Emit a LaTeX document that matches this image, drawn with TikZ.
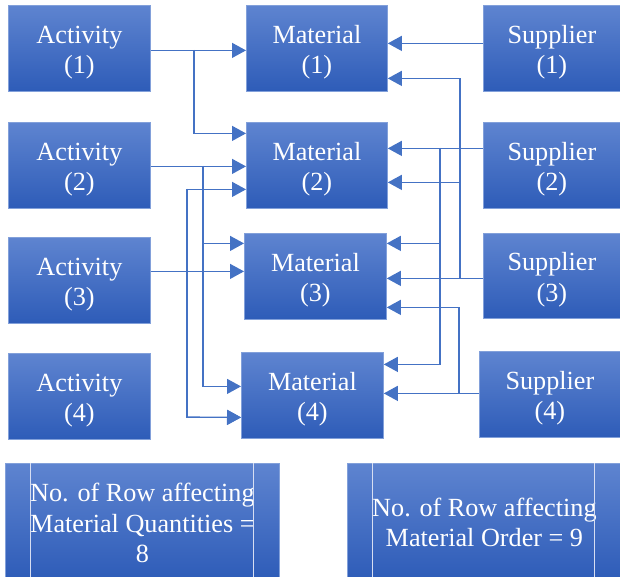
\documentclass[tikz,border=0pt]{standalone}
\usepackage{fontspec}
\setmainfont{Liberation Serif}
\usetikzlibrary{arrows.meta}
\definecolor{boxtop}{RGB}{94,132,208}
\definecolor{boxbot}{RGB}{46,92,184}
\definecolor{boxedge}{RGB}{130,160,218}
\definecolor{linkc}{RGB}{68,114,196}
\definecolor{ruler}{RGB}{215,222,242}
\tikzset{
  blk/.style={draw=boxedge, line width=0.8pt, top color=boxtop, bottom color=boxbot,
    inner sep=0pt, anchor=north west},
  lbl/.style={text=white, align=center, inner sep=0pt,
    font=\fontsize{26.2}{30.5}\selectfont},
  link/.style={draw=linkc, line width=1.2pt, -{Triangle[length=14pt,width=15pt]}},
  guide/.style={draw=ruler, line width=0.9pt}
}
% #1 name, #2 top-left corner, #3 width, #4 height, #5 text, #6 text drop
\newcommand\unitbox[6]{%
  \node[blk, minimum width=#3, minimum height=#4] (#1) at (#2) {};
  \node[lbl] (#1t) at ([yshift=-#6]#1.center) {#5};
}
\begin{document}
\begin{tikzpicture}[x=1pt,y=-1pt]
\useasboundingbox (0,0) rectangle (620,577);

% activity column
\unitbox{a1}{8,5}{142pt}{86pt}{Activity\\(1)}{4pt}
\unitbox{a2}{8,122}{142pt}{86pt}{Activity\\(2)}{4pt}
\unitbox{a3}{8,237}{142pt}{86pt}{Activity\\(3)}{4pt}
\unitbox{a4}{8,353}{142pt}{86pt}{Activity\\(4)}{4pt}

% material column
\unitbox{m1}{246,5}{141pt}{86pt}{Material\\(1)}{4pt}
\unitbox{m2}{246,122}{141pt}{86pt}{Material\\(2)}{4pt}
\unitbox{m3}{244,233}{142pt}{86pt}{Material\\(3)}{4pt}
\unitbox{m4}{241,352}{142pt}{86pt}{Material\\(4)}{4pt}

% supplier column
\unitbox{s1}{483,5}{137pt}{86pt}{Supplier\\(1)}{4pt}
\unitbox{s2}{483,122}{137pt}{86pt}{Supplier\\(2)}{4pt}
\unitbox{s3}{483,233}{137pt}{85pt}{Supplier\\(3)}{4pt}
\unitbox{s4}{479,351}{141pt}{86pt}{Supplier\\(4)}{4pt}

% summary boxes
\unitbox{q}{5,463}{274pt}{116pt}{No. of Row affecting\\Material Quantities =\\8}{1.5pt}
\unitbox{o}{347,463}{274pt}{116pt}{No. of Row affecting\\Material Order = 9}{1pt}
\draw[guide] (q.north west) ++(25,0) -- ++(0,116);
\draw[guide] (q.north west) ++(248,0) -- ++(0,116);
\draw[guide] (o.north west) ++(25,0) -- ++(0,116);
\draw[guide] (o.north west) ++(247,0) -- ++(0,116);

% junctions of the vertical buses
\coordinate (ja1) at (194,50);
\coordinate (ja2) at (203,166);
\coordinate (ja3t) at (187,189);
\coordinate (ja3b) at (187,417);
\coordinate (js2) at (440,148);
\coordinate (js3) at (460,278);
\coordinate (js4) at (459,393);

% activity -> material
\draw[link] ([yshift=-2pt]a1.east) -- ([yshift=-2pt]m1.west);
\draw[link] (ja1) |- ([yshift=32pt]m2.west);
\draw[link] ([yshift=-1pt]a2.east) -- ([yshift=-1pt]m2.west);
\draw[link] (ja2) |- ([yshift=33pt]m3.west);
\draw[link] (ja2) |- ([yshift=9pt]m4.west);
\draw[link] ([yshift=9pt]a3.east) -- ([yshift=5pt]m3.west);
\draw[link] (ja3t) |- ([yshift=-24pt]m2.west);
\draw[link] (ja3t) |- ([yshift=-22pt]m4.west);
\draw[link] (ja3b) -- ([yshift=-22pt]m4.west);

% supplier -> material
\draw[link] ([yshift=5pt]s1.west) -- ([yshift=5pt]m1.east);
\draw[link] ([yshift=17pt]s2.west) -- ([yshift=17pt]m2.east);
\draw[link] (js2) |- ([yshift=33pt]m3.east);
\draw[link] (js2) |- ([yshift=31pt]m4.east);
\draw[link] ([yshift=-2.5pt]s3.west) -- ([yshift=-2pt]m3.east);
\draw[link] (js3) |- ([yshift=-30pt]m1.east);
\draw[link] (js3) |- ([yshift=-17pt]m2.east);
\draw[link] ([yshift=1pt]s4.west) -- ([yshift=2pt]m4.east);
\draw[link] (js4) |- ([yshift=-31pt]m3.east);
\end{tikzpicture}
\end{document}
